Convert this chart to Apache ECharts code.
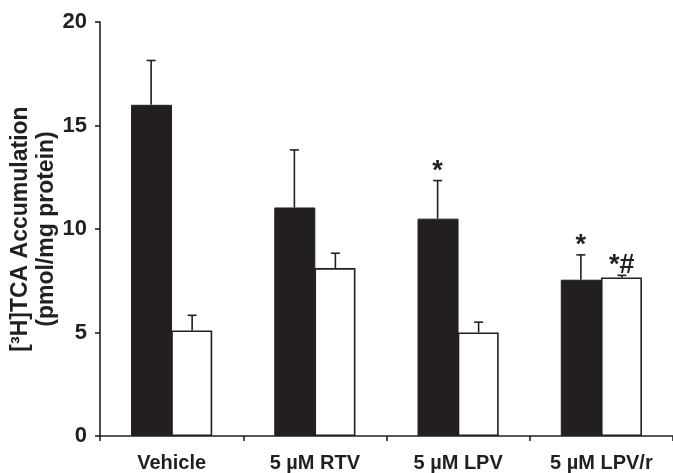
<!DOCTYPE html>
<html>
<head>
<meta charset="utf-8">
<script src="https://cdn.jsdelivr.net/npm/echarts@6/dist/echarts.min.js"></script>
<style>html,body{margin:0;padding:0;background:#fff}#c{width:673px;height:473px}</style>
</head>
<body>
<div id="c"></div>
<script>
var categories = ['Vehicle', '5 \u00b5M RTV', '5 \u00b5M LPV', '5 \u00b5M LPV/r'];
var blackValues = [16.0, 11.04, 10.5, 7.55];
var blackErrTop = [18.14, 13.82, 12.34, 8.75];
var whiteValues = [5.1, 8.11, 5.0, 7.66];
var whiteErrTop = [5.83, 8.83, 5.5, 7.76];
var yTicks = [0, 5, 10, 15, 20];
// annotations: [categoryIndex, seriesIndex(0 black,1 white), text]
var annotations = [[2, 0, '*'], [3, 0, '*'], [3, 1, '*#']];

var BAR_W = 41;
var FONT = 'Liberation Sans, Arial, sans-serif';

function errData(tops, vals) {
  return tops.map(function (t, i) { return [i, vals[i], t]; });
}

function errRender(offset) {
  return function (params, api) {
    var i = api.value(0);
    var base = api.coord([i, api.value(1)]);
    var top = api.coord([i, api.value(2)]);
    var x = base[0] + offset;
    var cap = 4.5;
    return {
      type: 'group',
      children: [
        { type: 'line', shape: { x1: x, y1: base[1], x2: x, y2: top[1] }, style: { stroke: '#231f20', lineWidth: 1.6 } },
        { type: 'line', shape: { x1: x - cap, y1: top[1], x2: x + cap, y2: top[1] }, style: { stroke: '#231f20', lineWidth: 1.6 } }
      ]
    };
  };
}

var annData = annotations.map(function (a) {
  var top = a[1] === 0 ? blackErrTop[a[0]] : whiteErrTop[a[0]];
  return [a[0], top, a[1], a[2]];
});

var chart = echarts.init(document.getElementById('c'));
chart.setOption({
  animation: false,
  backgroundColor: '#fff',
  grid: { left: 99, right: -4, top: 22, bottom: 35 },
  xAxis: {
    type: 'category',
    data: categories,
    axisLine: { lineStyle: { color: '#231f20', width: 1.6 } },
    axisTick: { show: true, length: 5, lineStyle: { color: '#231f20', width: 1.6 } },
    axisLabel: { color: '#231f20', fontFamily: FONT, fontWeight: 'bold', fontSize: 20, margin: 17 }
  },
  yAxis: {
    type: 'value',
    min: yTicks[0],
    max: yTicks[yTicks.length - 1],
    interval: 5,
    name: '[\u00b3H]TCA Accumulation\n(pmol/mg protein)',
    nameLocation: 'middle',
    nameGap: 40,
    nameMoveOverlap: false,
    nameTextStyle: { color: '#231f20', fontFamily: FONT, fontWeight: 'bold', fontSize: 23, lineHeight: 26 },
    axisLine: { show: true, lineStyle: { color: '#231f20', width: 1.6 } },
    axisTick: { show: true, length: 5, lineStyle: { color: '#231f20', width: 1.6 } },
    splitLine: { show: false },
    axisLabel: { color: '#231f20', fontFamily: FONT, fontWeight: 'bold', fontSize: 22, margin: 13 }
  },
  series: [
    {
      type: 'bar', data: blackValues, barWidth: BAR_W, barGap: '-2%',
      itemStyle: { color: '#231f20', borderColor: '#231f20', borderWidth: 1 }
    },
    {
      type: 'bar', data: whiteValues, barWidth: BAR_W, barGap: '-2%',
      itemStyle: { color: '#ffffff', borderColor: '#231f20', borderWidth: 1.6 }
    },
    { type: 'custom', renderItem: errRender(-BAR_W / 2), data: errData(blackErrTop, blackValues), z: 5 },
    { type: 'custom', renderItem: errRender(BAR_W / 2), data: errData(whiteErrTop, whiteValues), z: 5 },
    {
      type: 'custom', z: 6, data: annData,
      renderItem: function (params, api) {
        var p = api.coord([api.value(0), api.value(1)]);
        var off = api.value(2) === 0 ? -BAR_W / 2 : BAR_W / 2;
        return {
          type: 'text',
          style: {
            x: p[0] + off, y: p[1] + 4, text: annData[params.dataIndex][3],
            align: 'center', verticalAlign: 'bottom',
            font: 'bold 27px ' + FONT, fill: '#231f20'
          }
        };
      }
    }
  ]
});
</script>
</body>
</html>
